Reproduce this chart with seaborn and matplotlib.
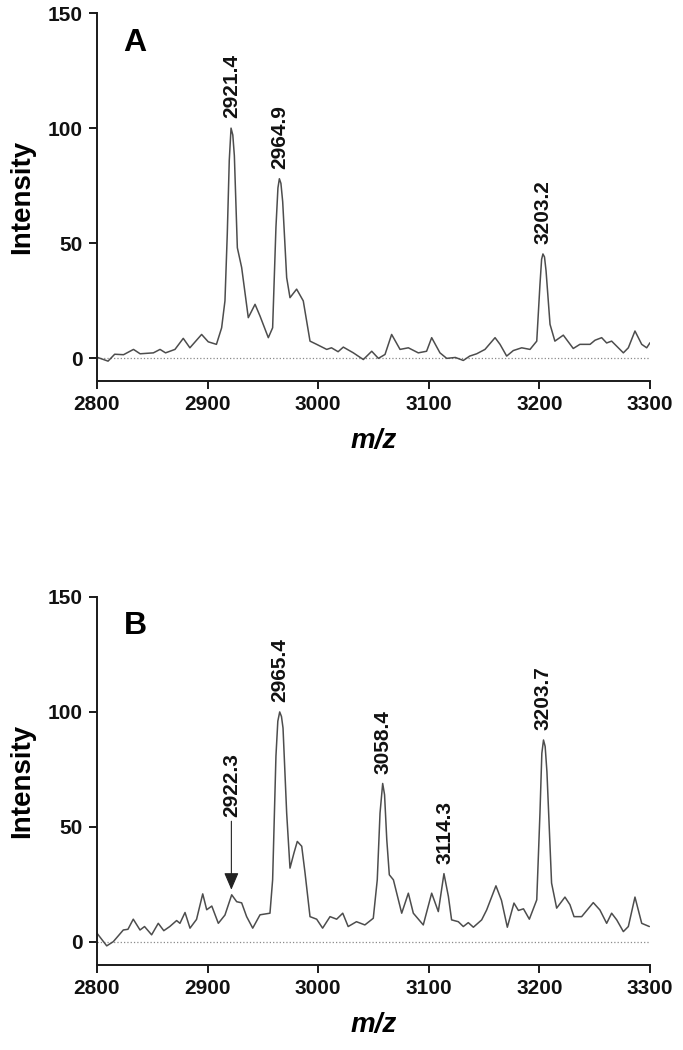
import numpy as np
import pandas as pd
import seaborn as sns
import matplotlib.pyplot as plt

# spectrum A
mz_a = [2800, 2810, 2816, 2824, 2833, 2839, 2851, 2857, 2862, 2870.5, 2878, 2884,
        2894.6, 2900.6, 2908, 2912.7, 2915.7, 2917.8, 2919.6, 2921.2, 2922.8, 2924.2,
        2926.9, 2930.8, 2936.8, 2942.9, 2947.4, 2954.9, 2958.8, 2961.8, 2963.6, 2964.9,
        2966.3, 2967.9, 2971.5, 2974.5, 2980.5, 2986.5, 2992.6, 2998.6, 3007.7, 3012,
        3018, 3022.7, 3031.8, 3040.8, 3048.4, 3054.4, 3060.4, 3066.4, 3074, 3081.5,
        3090.5, 3098, 3102.6, 3110.1, 3116.2, 3124, 3131.2, 3137, 3143.3, 3150.8,
        3159.9, 3164.4, 3170.4, 3176.4, 3184, 3191.5, 3197.6, 3200.5, 3202, 3203.2,
        3204.6, 3206, 3209.6, 3214, 3221.6, 3230.6, 3236.6, 3245.8, 3250.3, 3256.3,
        3260.8, 3265.3, 3275.9, 3280.4, 3286.4, 3292.5, 3297, 3300]
int_a = [0.4, -1.3, 1.7, 1.5, 3.8, 1.9, 2.3, 3.8, 2.3, 3.8, 8.6, 4.5,
         10.3, 7.1, 6, 13.2, 24.9, 54, 86, 100, 97, 88,
         48, 39.4, 17.6, 23.4, 18.3, 8.9, 13.2, 56.9, 74, 78,
         76, 68, 35, 26.3, 30, 24.9, 7.4, 6, 3.8, 4.5,
         2.8, 4.8, 2.3, -0.6, 3, -0.1, 1.6, 10.3, 3.8, 4.5,
         2.3, 3, 8.9, 2.3, -0.1, 0.3, -1, 0.9, 1.9, 3.8,
         8.9, 6, 0.9, 3.3, 4.5, 3.8, 7.4, 32, 43, 45.3,
         44, 38, 14.7, 7.4, 10, 4.2, 6, 6, 7.8, 8.9,
         6.6, 7.4, 2.3, 4.5, 11.8, 6, 4.5, 6.7]

# spectrum B
mz_b = [2800, 2808.8, 2814.7, 2823.8, 2828, 2832.8, 2838.9, 2843, 2849.4, 2855.4,
        2860.4, 2865.8, 2872, 2875, 2879.6, 2884.1, 2890, 2895.6, 2899.2, 2903.8,
        2909.7, 2915.7, 2921.8, 2926.3, 2930.8, 2935.3, 2940.8, 2947.4, 2956.4, 2958.8,
        2961.8, 2963.5, 2965.2, 2966.8, 2968.2, 2971.5, 2974.5, 2978.1, 2981.1, 2985.1,
        2988.1, 2992.6, 2998.6, 3004, 3010.7, 3016.7, 3022.2, 3027.1, 3034.6, 3042.2,
        3049.8, 3053.4, 3055.9, 3058.3, 3060, 3062, 3064.3, 3068, 3075.5, 3081.5,
        3086, 3095, 3102.6, 3108.6, 3113.7, 3117.7, 3120.6, 3126.7, 3131.2, 3135.7,
        3140.3, 3147.8, 3152.3, 3160.7, 3165.7, 3171, 3177, 3181, 3185.6, 3190.9,
        3197.6, 3200.5, 3202.2, 3203.7, 3205.2, 3206.8, 3211, 3215.6, 3223.1, 3227.6,
        3231.3, 3238.2, 3248.7, 3254.7, 3260.8, 3265.3, 3269.9, 3275.9, 3280.4, 3286.4,
        3292.5, 3299.4]
int_b = [3.8, -1.7, 0.1, 5.2, 5.5, 9.9, 5.2, 6.7, 3.1, 8.1,
         4.9, 6.7, 9.3, 8.1, 12.8, 6, 9.8, 20.9, 14, 15.6,
         8.1, 11.7, 20.5, 17.5, 17, 11, 6, 11.8, 12.5, 27,
         80.8, 96, 100, 98, 93, 56, 32.1, 38.7, 43.7, 41.6,
         30, 11, 9.9, 6, 11, 9.9, 12.5, 6.7, 8.8, 7.4,
         10.3, 27, 56, 68.9, 64, 44.5, 29.2, 27, 12.5, 21.2,
         12.5, 7.4, 21.2, 13.2, 29.7, 19.8, 9.6, 8.8, 6.7, 8.4,
         6.4, 9.6, 13.9, 24.4, 18.1, 6.4, 16.9, 13.7, 14.4, 9.9,
         18.3, 56, 82, 87.8, 85, 74, 25.6, 14.7, 19.5, 16.2,
         11, 11, 17.1, 13.9, 8.1, 12.5, 9.6, 4.5, 6.7, 19.5,
         8.1, 6.7]

# labelled peaks
peaks_a = [2921.4, 2964.9, 3203.2]
peak_int_a = [100, 78, 45.3]
peaks_b = [2965.4, 3058.4, 3114.3, 3203.7]
peak_int_b = [100, 68.9, 29.7, 87.8]
arrow_peak_b = 2922.3

sns.set_style("ticks")
plt.rcParams['font.family'] = ['Liberation Sans', 'DejaVu Sans']
plt.rcParams['axes.linewidth'] = 1.4
plt.rcParams['axes.edgecolor'] = '#1a1a1a'
plt.rcParams['text.color'] = 'black'
plt.rcParams['axes.labelcolor'] = 'black'

fig = plt.figure(figsize=(6.83, 10.5), dpi=100)
ax_a = fig.add_axes([0.142, 0.637, 0.8097, 0.3505])
ax_b = fig.add_axes([0.142, 0.081, 0.8097, 0.3505])

panels = [(ax_a, mz_a, int_a, peaks_a, peak_int_a, "A"),
          (ax_b, mz_b, int_b, peaks_b, peak_int_b, "B")]

for ax, mz, inten, pk, pk_int, letter in panels:
    df = pd.DataFrame({"mz": mz, "intensity": inten})
    ax.axhline(0, color="#8a8a8a", ls=":", lw=0.9, zorder=1)
    sns.lineplot(data=df, x="mz", y="intensity", ax=ax, color="#4d4d4d", lw=1.1,
                 estimator=None, sort=False, zorder=2)
    ax.set_xlim(2800, 3300)
    ax.set_ylim(-10, 150)
    ax.set_xticks([2800, 2900, 3000, 3100, 3200, 3300])
    ax.set_yticks([0, 50, 100, 150])
    ax.tick_params(axis="both", labelsize=15, width=1.4, length=6, pad=4,
                   color="#1a1a1a", labelcolor="#111111")
    for t in ax.get_xticklabels() + ax.get_yticklabels():
        t.set_fontweight("bold")
    sns.despine(ax=ax)
    ax.set_xlabel("m/z", fontsize=20, fontweight="bold", fontstyle="italic", labelpad=10)
    ax.set_ylabel("Intensity", fontsize=20, fontweight="bold", labelpad=9)
    ax.text(0.069, 0.92, letter, transform=ax.transAxes, fontsize=23, fontweight="bold",
            ha="center", va="center")
    for x, y in zip(pk, pk_int):
        ax.annotate(f"{x:.1f}", xy=(x, y), xytext=(0, 7), textcoords="offset points",
                    rotation=90, ha="center", va="bottom", fontsize=15, fontweight="bold",
                    color="#111111")

# minor peak in B marked with an arrow
ax_b.annotate(f"{arrow_peak_b:.1f}", xy=(arrow_peak_b - 0.8, 22.7),
              xytext=(arrow_peak_b - 0.8, 54.5), rotation=90, ha="center", va="bottom",
              fontsize=15, fontweight="bold", color="#111111",
              arrowprops=dict(arrowstyle="-|>,head_length=0.7,head_width=0.3",
                              color="#222222", lw=0.8, shrinkA=1, shrinkB=0))

fig.savefig("out.png", dpi=100)
